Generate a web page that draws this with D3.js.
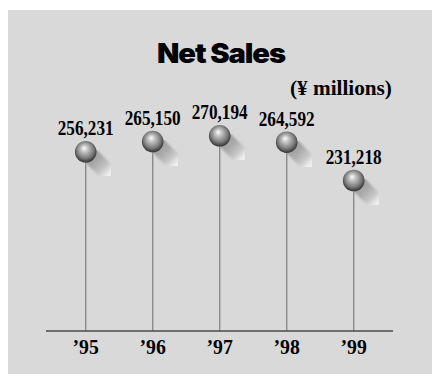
<!DOCTYPE html>
<html>
<head>
<meta charset="utf-8">
<script src="https://cdn.jsdelivr.net/npm/d3@7"></script>
<style>
  html, body { margin: 0; padding: 0; background: #ffffff; }
  svg { display: block; }
</style>
</head>
<body>
<script>
// Net sales by fiscal year (¥ millions)
const years = ["\u201995", "\u201996", "\u201997", "\u201998", "\u201999"];
const sales = [256231, 265150, 270194, 264592, 231218];
const title = "Net Sales";
const unitLabel = "(\u00a5 millions)";

const W = 432, H = 374;
const svg = d3.select("body").append("svg").attr("width", W).attr("height", H);

// panel background
svg.append("rect").attr("x", 8).attr("y", 10).attr("width", W - 8).attr("height", H - 10)
  .attr("fill", "#d9d9d9");

const x = d3.scalePoint().domain(years).range([85.7, 353.7]);
const y = d3.scaleLinear().domain([100000, 300000]).range([331, 101.6]);

const defs = svg.append("defs");
const ballGrad = defs.append("radialGradient").attr("id", "ball")
  .attr("cx", "50%").attr("cy", "45%").attr("r", "58%").attr("fx", "42%").attr("fy", "32%");
ballGrad.append("stop").attr("offset", "0%").attr("stop-color", "#fdfdfd");
ballGrad.append("stop").attr("offset", "28%").attr("stop-color", "#c2c2c2");
ballGrad.append("stop").attr("offset", "68%").attr("stop-color", "#7a7a7a");
ballGrad.append("stop").attr("offset", "100%").attr("stop-color", "#262626");

const shadowGrad = defs.append("linearGradient").attr("id", "shadow")
  .attr("gradientUnits", "objectBoundingBox")
  .attr("x1", "0").attr("y1", "0").attr("x2", "1").attr("y2", "1");
shadowGrad.append("stop").attr("offset", "0%").attr("stop-color", "#949494");
shadowGrad.append("stop").attr("offset", "45%").attr("stop-color", "#ababab");
shadowGrad.append("stop").attr("offset", "75%").attr("stop-color", "#c6c6c6");
shadowGrad.append("stop").attr("offset", "100%").attr("stop-color", "#eeeeee");

defs.append("filter").attr("id", "soft").append("feGaussianBlur").attr("stdDeviation", 1.0);

// fit a text element horizontally to a given width by scaling its glyphs
function fitText(sel, x0, y0, width) {
  const w = sel.node().getComputedTextLength();
  sel.attr("transform", `translate(${x0},${y0}) scale(${width / w},1)`);
}

// title and unit
const titleText = svg.append("text")
  .attr("font-family", "Inter, 'Liberation Sans', sans-serif").attr("font-weight", 900)
  .attr("font-size", 27).attr("letter-spacing", "-1").attr("fill", "#000").text(title);
fitText(titleText, 157, 62.5, 128);
const unitText = svg.append("text")
  .attr("font-family", "'Liberation Serif', serif").attr("font-weight", "bold")
  .attr("font-size", 20).attr("fill", "#000").text(unitLabel);
fitText(unitText, 290, 95, 102);

const data = years.map((yr, i) => ({ yr, v: sales[i] }));

// stems
svg.selectAll("line.stem").data(data).join("line").attr("class", "stem")
  .attr("x1", d => x(d.yr)).attr("x2", d => x(d.yr))
  .attr("y1", d => y(d.v)).attr("y2", y(100000))
  .attr("stroke", "#8a8a8a").attr("stroke-width", 1.4);

// shadows
svg.selectAll("path.shadow").data(data).join("path").attr("class", "shadow")
  .attr("d", d => {
    const cx = x(d.yr), cy = y(d.v);
    return `M${cx + 2},${cy + 1} L${cx + 23},${cy + 22}`;
  })
  .attr("stroke", "url(#shadow)").attr("stroke-width", 17).attr("stroke-linecap", "round")
  .attr("fill", "none").attr("filter", "url(#soft)");

// axis baseline
svg.append("line").attr("x1", 46).attr("x2", 393).attr("y1", y(100000)).attr("y2", y(100000))
  .attr("stroke", "#4a4a4a").attr("stroke-width", 1.6);

// balls
svg.selectAll("circle.ball").data(data).join("circle").attr("class", "ball")
  .attr("cx", d => x(d.yr)).attr("cy", d => y(d.v)).attr("r", 10.8)
  .attr("fill", "url(#ball)");

// value labels (condensed serif)
svg.selectAll("text.val").data(data).join("text").attr("class", "val")
  .attr("transform", d => `translate(${x(d.yr)},${y(d.v) - 16.5}) scale(0.86,1)`)
  .attr("text-anchor", "middle")
  .attr("font-family", "'Liberation Serif', serif").attr("font-weight", "bold")
  .attr("font-size", 20).attr("fill", "#000")
  .text(d => d3.format(",")(d.v));

// year labels
svg.selectAll("text.yr").data(data).join("text").attr("class", "yr")
  .attr("transform", d => `translate(${x(d.yr)},354) scale(0.9,1)`)
  .attr("text-anchor", "middle")
  .attr("font-family", "'Liberation Serif', serif").attr("font-weight", "bold")
  .attr("font-size", 22).attr("fill", "#000")
  .text(d => d.yr);
</script>
</body>
</html>
